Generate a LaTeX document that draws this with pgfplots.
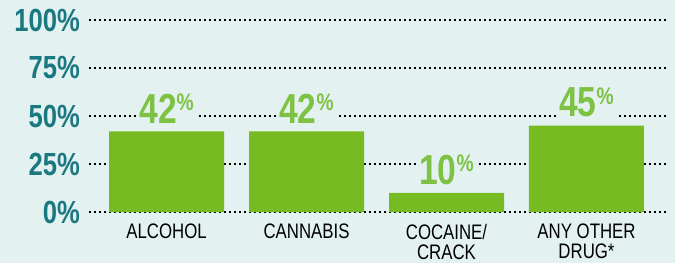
\documentclass[border=0pt]{standalone}
\usepackage{fontspec}
\setmainfont{Liberation Sans}
\newfontfamily\cond[FakeStretch=0.8]{Liberation Sans}
\usepackage{pgfplots}
\pgfplotsset{compat=1.18}
\definecolor{bgc}{HTML}{E4F1F1}
\definecolor{teal}{HTML}{1A7880}
\definecolor{barg}{HTML}{77BB22}
\definecolor{labg}{HTML}{7DC242}
\begin{document}
\begin{tikzpicture}
\fill[bgc] (-89bp,-51bp) rectangle (586bp,212bp);
\begin{axis}[
  at={(0,0)}, anchor=south west,
  scale only axis, width=577bp, height=192bp,
  xmin=-0.554, xmax=3.568, ymin=0, ymax=100,
  axis line style={draw=none},
  major tick length=0pt,
  ytick={0,25,50,75,100},
  yticklabels={0\%,25\%,50\%,75\%,100\%},
  yticklabel style={anchor=east, inner sep=0pt, xshift=-9bp, text=teal,
    font=\cond\bfseries\fontsize{32bp}{32bp}\selectfont},
  xtick={0,1,2,3},
  xticklabels={ALCOHOL,CANNABIS,{COCAINE/\\CRACK},{ANY OTHER\\DRUG*}},
  xticklabel style={anchor=north, align=center, inner sep=0pt, yshift=-12bp, text=black,
    font=\cond\fontsize{21bp}{20bp}\selectfont},
  ymajorgrids,
  grid style={black, line width=1.8bp, dash pattern=on 1.8bp off 3.2bp},
  ybar, bar width=115bp,
  nodes near coords={\pgfmathprintnumber[assume math mode=true]{\pgfplotspointmeta}\raisebox{12.5bp}{\fontsize{24bp}{24bp}\selectfont\%}},
  every node near coord/.append style={anchor=south, fill=bgc, inner sep=3bp, yshift=5bp, text=labg,
    font=\cond\bfseries\fontsize{42bp}{42bp}\selectfont},
]
\addplot[fill=barg, draw=none] coordinates {(0,42) (1,42) (2,10) (3,45)};
\end{axis}
\pgfresetboundingbox
\useasboundingbox (-89bp,-51bp) rectangle (586bp,212bp);
\end{tikzpicture}
\end{document}
